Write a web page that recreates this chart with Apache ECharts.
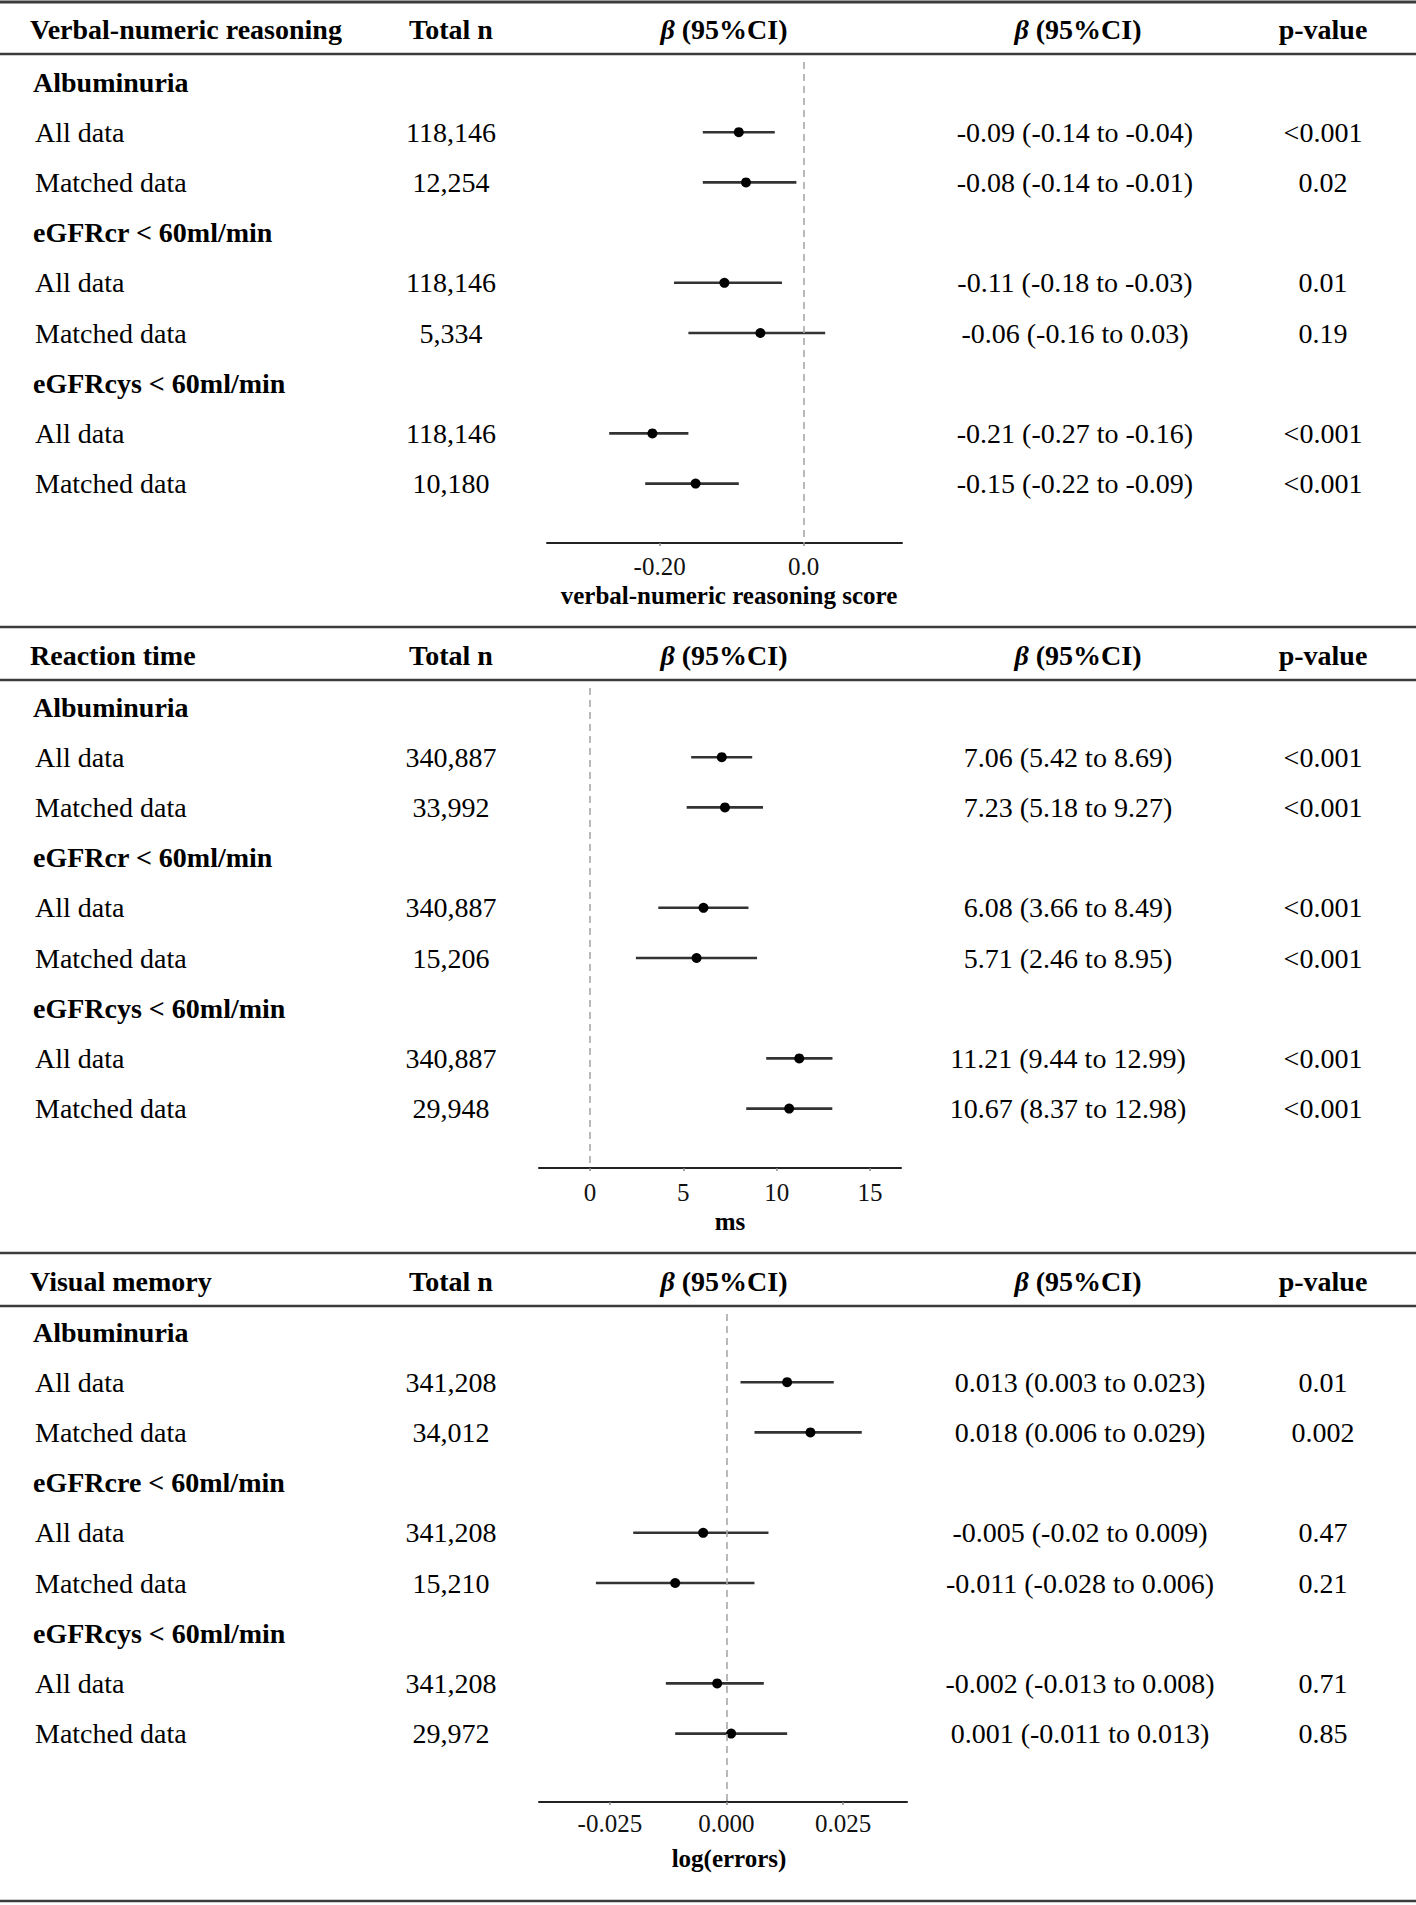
<!DOCTYPE html>
<html>
<head>
<meta charset="utf-8">
<title>Forest plots</title>
<script src="https://cdn.jsdelivr.net/npm/echarts@6/dist/echarts.min.js"></script>
<style>
  html, body { margin: 0; padding: 0; background: #fff; }
  #chart { width: 1416px; height: 1905px; }
</style>
</head>
<body>
<div id="chart"></div>
<script>
// ---- data ----
const panelTitles = ['Verbal-numeric reasoning', 'Reaction time', 'Visual memory']
const axisNames = ['verbal-numeric reasoning score', 'ms', 'log(errors)']
const groupNames = [
  ['Albuminuria', 'eGFRcr < 60ml/min', 'eGFRcys < 60ml/min'],
  ['Albuminuria', 'eGFRcr < 60ml/min', 'eGFRcys < 60ml/min'],
  ['Albuminuria', 'eGFRcre < 60ml/min', 'eGFRcys < 60ml/min']
]
const subLabels = ['All data', 'Matched data']

// verbal-numeric reasoning
const vnrN = ['118,146', '12,254', '118,146', '5,334', '118,146', '10,180']
const vnrBeta = [-0.09, -0.08, -0.11, -0.06, -0.21, -0.15]
const vnrLow = [-0.14, -0.14, -0.18, -0.16, -0.27, -0.22]
const vnrHigh = [-0.04, -0.01, -0.03, 0.03, -0.16, -0.09]
const vnrCI = ['-0.09 (-0.14 to -0.04)', '-0.08 (-0.14 to -0.01)', '-0.11 (-0.18 to -0.03)',
  '-0.06 (-0.16 to 0.03)', '-0.21 (-0.27 to -0.16)', '-0.15 (-0.22 to -0.09)']
const vnrP = ['<0.001', '0.02', '0.01', '0.19', '<0.001', '<0.001']
const vnrTicks = [-0.2, 0]
const vnrTickLabels = ['-0.20', '0.0']

// reaction time
const rtN = ['340,887', '33,992', '340,887', '15,206', '340,887', '29,948']
const rtBeta = [7.06, 7.23, 6.08, 5.71, 11.21, 10.67]
const rtLow = [5.42, 5.18, 3.66, 2.46, 9.44, 8.37]
const rtHigh = [8.69, 9.27, 8.49, 8.95, 12.99, 12.98]
const rtCI = ['7.06 (5.42 to 8.69)', '7.23 (5.18 to 9.27)', '6.08 (3.66 to 8.49)',
  '5.71 (2.46 to 8.95)', '11.21 (9.44 to 12.99)', '10.67 (8.37 to 12.98)']
const rtP = ['<0.001', '<0.001', '<0.001', '<0.001', '<0.001', '<0.001']
const rtTicks = [0, 5, 10, 15]
const rtTickLabels = ['0', '5', '10', '15']

// visual memory
const vmN = ['341,208', '34,012', '341,208', '15,210', '341,208', '29,972']
const vmBeta = [0.013, 0.018, -0.005, -0.011, -0.002, 0.001]
const vmLow = [0.003, 0.006, -0.02, -0.028, -0.013, -0.011]
const vmHigh = [0.023, 0.029, 0.009, 0.006, 0.008, 0.013]
const vmCI = ['0.013 (0.003 to 0.023)', '0.018 (0.006 to 0.029)', '-0.005 (-0.02 to 0.009)',
  '-0.011 (-0.028 to 0.006)', '-0.002 (-0.013 to 0.008)', '0.001 (-0.011 to 0.013)']
const vmP = ['0.01', '0.002', '0.47', '0.21', '0.71', '0.85']
const vmTicks = [-0.025, 0, 0.025]
const vmTickLabels = ['-0.025', '0.000', '0.025']

const panels = [
  { n: vnrN, beta: vnrBeta, low: vnrLow, high: vnrHigh, ci: vnrCI, p: vnrP, ticks: vnrTicks, tickLabels: vnrTickLabels },
  { n: rtN, beta: rtBeta, low: rtLow, high: rtHigh, ci: rtCI, p: rtP, ticks: rtTicks, tickLabels: rtTickLabels },
  { n: vmN, beta: vmBeta, low: vmLow, high: vmHigh, ci: vmCI, p: vmP, ticks: vmTicks, tickLabels: vmTickLabels }
]
const groupRows = [0, 3, 6]
const dataRows = [1, 2, 4, 5, 7, 8]

// ---- layout ----
const FONT = '"Liberation Serif", "Times New Roman", Times, serif'
const TXT = 28
const PITCH = 50.2
const COL = { head: 30, group: 33, sub: 35, n: 451, plotHead: 724, ciHead: 1078, p: 1323 }
const layout = [
  { rule: 54, head: 29, row0: 82, axis: 543, left: 547, right: 902, xmin: -0.3564, xmax: 0.1367, labelGap: 11, nameGap: 40, namePad: 9, ciX: 1075 },
  { rule: 680, head: 655, row0: 707, axis: 1168, left: 539, right: 901, xmin: -2.73, xmax: 16.66, labelGap: 12, nameGap: 41, namePad: 20, ciX: 1068 },
  { rule: 1306, head: 1281, row0: 1332, axis: 1802, left: 539, right: 907, xmin: -0.0402, xmax: 0.0387, labelGap: 9, nameGap: 44, namePad: 12, ciX: 1080 }
]
const ruleYs = [2, 54, 627, 680, 1253, 1306, 1901]

function txt(x, y, text, align, bold) {
  return {
    type: 'text', x, y,
    style: {
      text, fill: '#000', fontFamily: FONT, fontSize: TXT, fontWeight: bold ? 'bold' : 'normal',
      align, textAlign: align, verticalAlign: 'middle', textVerticalAlign: 'middle'
    }
  }
}

function tickText(P, v) {
  let best = 0
  P.ticks.forEach((t, i) => { if (Math.abs(t - v) < Math.abs(P.ticks[best] - v)) best = i })
  return P.tickLabels[best]
}

// rules + column headers
const graphic = []
ruleYs.forEach(y => {
  graphic.push({ type: 'line', shape: { x1: 0, y1: y, x2: 1416, y2: y }, style: { stroke: '#3c3c3c', lineWidth: y === 2 ? 3 : 2.5 }, silent: true })
})
layout.forEach((l, i) => {
  graphic.push(txt(COL.head, l.head, panelTitles[i], 'left', true))
  graphic.push(txt(COL.n, l.head, 'Total n', 'center', true))
  ;[COL.plotHead, COL.ciHead].forEach(x => {
    const t = txt(x, l.head, '{i|β} (95%CI)', 'center', true)
    t.style.rich = { i: { fontFamily: FONT, fontSize: TXT, fontWeight: 'bold', fontStyle: 'italic', fill: '#000' } }
    graphic.push(t)
  })
  graphic.push(txt(COL.p, l.head, 'p-value', 'center', true))
})

const series = []
panels.forEach((P, i) => {
  const l = layout[i]
  // confidence interval segments
  series.push({
    type: 'custom', xAxisIndex: i, yAxisIndex: i, z: 2,
    encode: { x: [0, 1], y: 2 },
    data: P.low.map((lo, k) => [lo, P.high[k], dataRows[k]]),
    renderItem(params, api) {
      const a = api.coord([api.value(0), api.value(2)])
      const b = api.coord([api.value(1), api.value(2)])
      return { type: 'line', shape: { x1: a[0], y1: a[1], x2: b[0], y2: b[1] }, style: { stroke: '#333', lineWidth: 2.6 } }
    }
  })
  // point estimates + zero line
  series.push({
    type: 'scatter', xAxisIndex: i, yAxisIndex: i, z: 3,
    symbolSize: 10, itemStyle: { color: '#000', opacity: 1 },
    data: P.beta.map((b, k) => [b, dataRows[k]]),
    markLine: {
      silent: true, symbol: 'none', label: { show: false },
      lineStyle: { type: [7, 5], color: '#a8a8a8', width: 1.6 },
      data: [{ xAxis: 0 }]
    }
  })
  // table text
  series.push({
    type: 'custom', xAxisIndex: i, yAxisIndex: i, z: 1,
    encode: { x: 0, y: 1 },
    data: [0, 1, 2, 3, 4, 5, 6, 7, 8].map(r => [0, r]),
    renderItem(params, api) {
      const r = api.value(1)
      const y = api.coord([0, r])[1]
      const g = groupRows.indexOf(r)
      if (g >= 0) return txt(COL.group, y, groupNames[i][g], 'left', true)
      const k = dataRows.indexOf(r)
      return {
        type: 'group',
        children: [
          txt(COL.sub, y, subLabels[k % 2], 'left', false),
          txt(COL.n, y, P.n[k], 'center', false),
          txt(l.ciX, y, P.ci[k], 'center', false),
          txt(COL.p, y, P.p[k], 'center', false)
        ]
      }
    }
  })
})

const option = {
  animation: false,
  backgroundColor: '#fff',
  grid: layout.map(l => ({
    left: l.left, width: l.right - l.left, top: l.rule + 8, height: l.axis - l.rule - 8,
    outerBoundsMode: 'none'
  })),
  xAxis: panels.map((P, i) => ({
    gridIndex: i, type: 'value', min: layout[i].xmin, max: layout[i].xmax,
    splitLine: { show: false },
    axisLine: { onZero: false, lineStyle: { color: '#222', width: 2 } },
    axisTick: { customValues: P.ticks, length: 3, lineStyle: { color: '#888', width: 1.5 } },
    axisLabel: {
      customValues: P.ticks, formatter: v => tickText(P, v), margin: layout[i].labelGap,
      fontFamily: FONT, fontSize: 25, color: '#111'
    },
    name: axisNames[i], nameLocation: 'middle', nameGap: layout[i].nameGap,
    nameTextStyle: { fontFamily: FONT, fontSize: 25, fontWeight: 'bold', color: '#000', padding: [0, 0, 0, layout[i].namePad] }
  })),
  yAxis: layout.map((l, i) => ({
    gridIndex: i, type: 'value', inverse: true, show: false,
    min: (l.rule + 8 - l.row0) / PITCH,
    max: (l.axis - l.row0) / PITCH
  })),
  graphic,
  series
}

const chart = echarts.init(document.getElementById('chart'), null, { renderer: 'svg' })
chart.setOption(option)
</script>
</body>
</html>
